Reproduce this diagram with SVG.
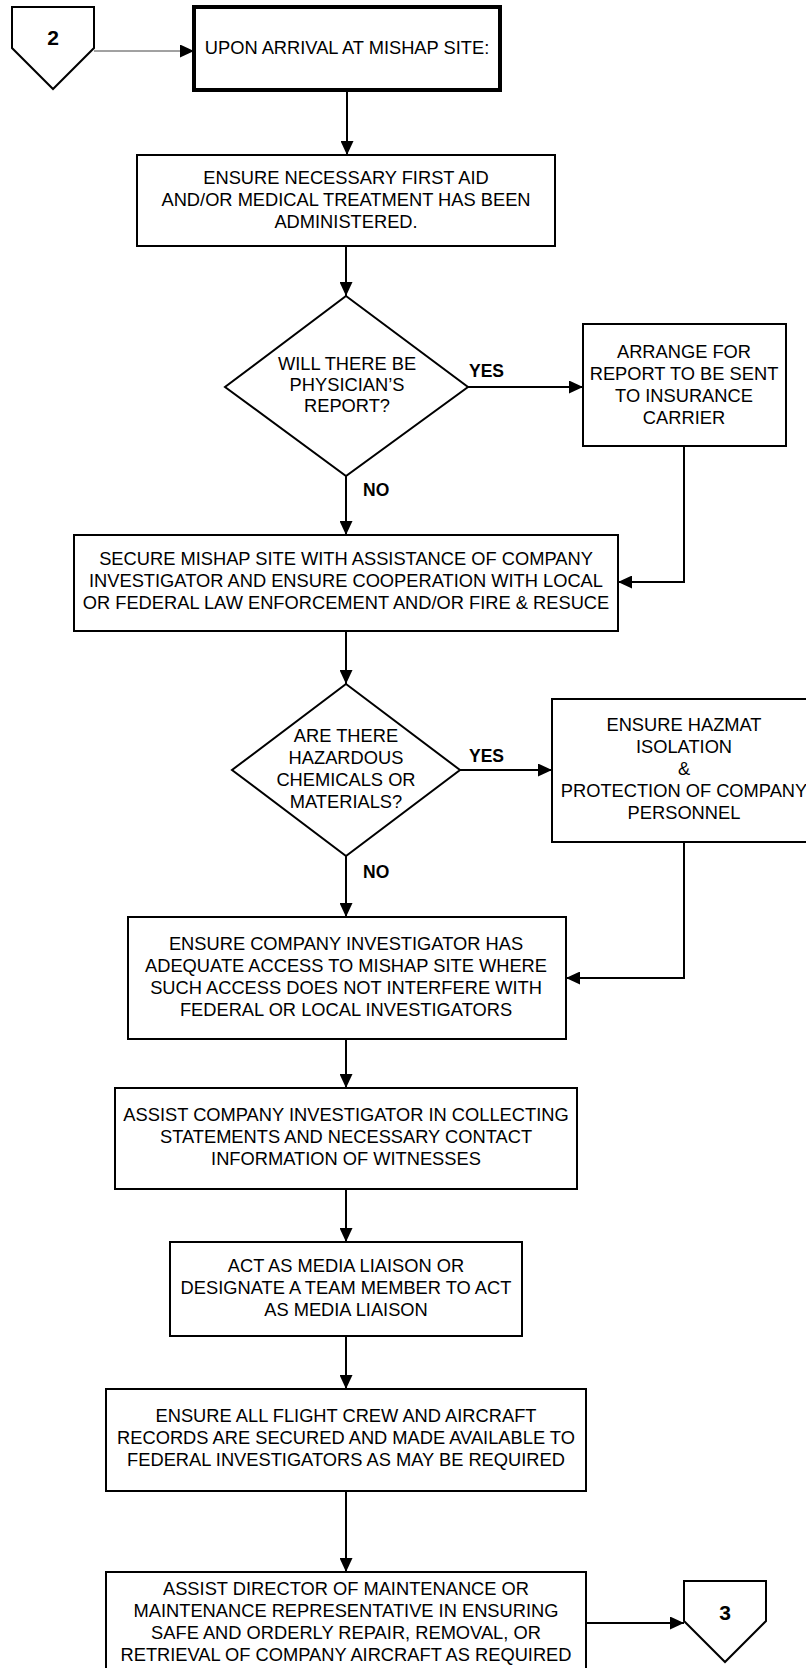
<svg xmlns="http://www.w3.org/2000/svg" width="806" height="1668" viewBox="0 0 806 1668">
<defs>
<marker id="arr" viewBox="0 0 14 13" refX="14" refY="6.5" markerWidth="14" markerHeight="13" markerUnits="userSpaceOnUse" orient="auto">
<path d="M0,0 L14,6.5 L0,13 z" fill="#000"/>
</marker>
</defs>
<style>
.box{fill:#fff;stroke:#000;stroke-width:2}
.t{font-family:"Liberation Sans",Arial,sans-serif;font-size:18.3px;fill:#000;text-anchor:middle}
.lb{font-family:"Liberation Sans",Arial,sans-serif;font-size:17.5px;font-weight:bold;fill:#000}
.num{font-family:"Liberation Sans",Arial,sans-serif;font-size:21px;font-weight:bold;fill:#000;text-anchor:middle}
.c{fill:none;stroke:#000;stroke-width:2}
</style>
<rect width="806" height="1668" fill="#fff"/>
<g id="connectors">
<line x1="94" y1="51" x2="194" y2="51" stroke="#444" stroke-width="1" marker-end="url(#arr)"/>
<line class="c" x1="347" y1="90" x2="347" y2="155" marker-end="url(#arr)"/>
<line class="c" x1="346" y1="246" x2="346" y2="296" marker-end="url(#arr)"/>
<line class="c" x1="468" y1="387" x2="583" y2="387" stroke-width="1.5" marker-end="url(#arr)"/>
<line class="c" x1="346" y1="476" x2="346" y2="535" marker-end="url(#arr)"/>
<polyline class="c" points="684,446 684,582 618,582" marker-end="url(#arr)"/>
<line class="c" x1="346" y1="631" x2="346" y2="684" marker-end="url(#arr)"/>
<line class="c" x1="460" y1="770" x2="552" y2="770" marker-end="url(#arr)"/>
<line class="c" x1="346" y1="856" x2="346" y2="917" marker-end="url(#arr)"/>
<polyline class="c" points="684,842 684,978 566,978" marker-end="url(#arr)"/>
<line class="c" x1="346" y1="1039" x2="346" y2="1088" marker-end="url(#arr)"/>
<line class="c" x1="346" y1="1189" x2="346" y2="1242" marker-end="url(#arr)"/>
<line class="c" x1="346" y1="1336" x2="346" y2="1389" marker-end="url(#arr)"/>
<line class="c" x1="346" y1="1491" x2="346" y2="1572" marker-end="url(#arr)"/>
<line class="c" x1="586" y1="1623" x2="684" y2="1623" marker-end="url(#arr)"/>
</g>
<g id="conn2">
<polygon points="12,7 94,7 94,48 53,89 12,48" class="box"/>
<text class="num" x="53" y="45">2</text>
</g>
<g id="arrival">
<rect x="194" y="7" width="306" height="83" fill="#fff" stroke="#000" stroke-width="4"/>
<text class="t" x="347" y="54">UPON ARRIVAL AT MISHAP SITE:</text>
</g>
<g id="firstaid">
<rect class="box" x="137" y="155" width="418" height="91"/>
<text class="t" x="346" y="184">ENSURE NECESSARY FIRST AID</text>
<text class="t" x="346" y="206">AND/OR MEDICAL TREATMENT HAS BEEN</text>
<text class="t" x="346" y="228">ADMINISTERED.</text>
</g>
<g id="physician">
<polygon class="box" points="346,296 468,387 346,476 225,387"/>
<text class="t" x="347" y="370">WILL THERE BE</text>
<text class="t" x="347" y="391">PHYSICIAN’S</text>
<text class="t" x="347" y="412">REPORT?</text>
</g>
<text class="lb" x="469" y="377">YES</text>
<text class="lb" x="363" y="496">NO</text>
<g id="insurance">
<rect class="box" x="583" y="324" width="203" height="122"/>
<text class="t" x="684" y="358">ARRANGE FOR</text>
<text class="t" x="684" y="380">REPORT TO BE SENT</text>
<text class="t" x="684" y="402">TO INSURANCE</text>
<text class="t" x="684" y="424">CARRIER</text>
</g>
<g id="secure">
<rect class="box" x="74" y="535" width="544" height="96"/>
<text class="t" x="346" y="565">SECURE MISHAP SITE WITH ASSISTANCE OF COMPANY</text>
<text class="t" x="346" y="587">INVESTIGATOR AND ENSURE COOPERATION WITH LOCAL</text>
<text class="t" x="346" y="609">OR FEDERAL LAW ENFORCEMENT AND/OR FIRE &amp; RESUCE</text>
</g>
<g id="hazard">
<polygon class="box" points="346,684 460,770 346,856 232,770"/>
<text class="t" x="346" y="742">ARE THERE</text>
<text class="t" x="346" y="764">HAZARDOUS</text>
<text class="t" x="346" y="786">CHEMICALS OR</text>
<text class="t" x="346" y="808">MATERIALS?</text>
</g>
<text class="lb" x="469" y="762">YES</text>
<text class="lb" x="363" y="878">NO</text>
<g id="hazmat">
<rect class="box" x="552" y="699" width="264" height="143"/>
<text class="t" x="684" y="731">ENSURE HAZMAT</text>
<text class="t" x="684" y="753">ISOLATION</text>
<text class="t" x="684" y="775">&amp;</text>
<text class="t" x="684" y="797">PROTECTION OF COMPANY</text>
<text class="t" x="684" y="819">PERSONNEL</text>
</g>
<g id="access">
<rect class="box" x="128" y="917" width="438" height="122"/>
<text class="t" x="346" y="950">ENSURE COMPANY INVESTIGATOR HAS</text>
<text class="t" x="346" y="972">ADEQUATE ACCESS TO MISHAP SITE WHERE</text>
<text class="t" x="346" y="994">SUCH ACCESS DOES NOT INTERFERE WITH</text>
<text class="t" x="346" y="1016">FEDERAL OR LOCAL INVESTIGATORS</text>
</g>
<g id="statements">
<rect class="box" x="115" y="1088" width="462" height="101"/>
<text class="t" x="346" y="1121">ASSIST COMPANY INVESTIGATOR IN COLLECTING</text>
<text class="t" x="346" y="1143">STATEMENTS AND NECESSARY CONTACT</text>
<text class="t" x="346" y="1165">INFORMATION OF WITNESSES</text>
</g>
<g id="media">
<rect class="box" x="170" y="1242" width="352" height="94"/>
<text class="t" x="346" y="1272">ACT AS MEDIA LIAISON OR</text>
<text class="t" x="346" y="1294">DESIGNATE A TEAM MEMBER TO ACT</text>
<text class="t" x="346" y="1316">AS MEDIA LIAISON</text>
</g>
<g id="records">
<rect class="box" x="106" y="1389" width="480" height="102"/>
<text class="t" x="346" y="1422">ENSURE ALL FLIGHT CREW AND AIRCRAFT</text>
<text class="t" x="346" y="1444">RECORDS ARE SECURED AND MADE AVAILABLE TO</text>
<text class="t" x="346" y="1466">FEDERAL INVESTIGATORS AS MAY BE REQUIRED</text>
</g>
<g id="maintenance">
<rect class="box" x="106" y="1572" width="480" height="110"/>
<text class="t" x="346" y="1595">ASSIST DIRECTOR OF MAINTENANCE OR</text>
<text class="t" x="346" y="1617">MAINTENANCE REPRESENTATIVE IN ENSURING</text>
<text class="t" x="346" y="1639">SAFE AND ORDERLY REPAIR, REMOVAL, OR</text>
<text class="t" x="346" y="1661">RETRIEVAL OF COMPANY AIRCRAFT AS REQUIRED</text>
</g>
<g id="conn3">
<polygon class="box" points="684,1581 766,1581 766,1621 725,1662 684,1621"/>
<text class="num" x="725" y="1620">3</text>
</g>
</svg>
